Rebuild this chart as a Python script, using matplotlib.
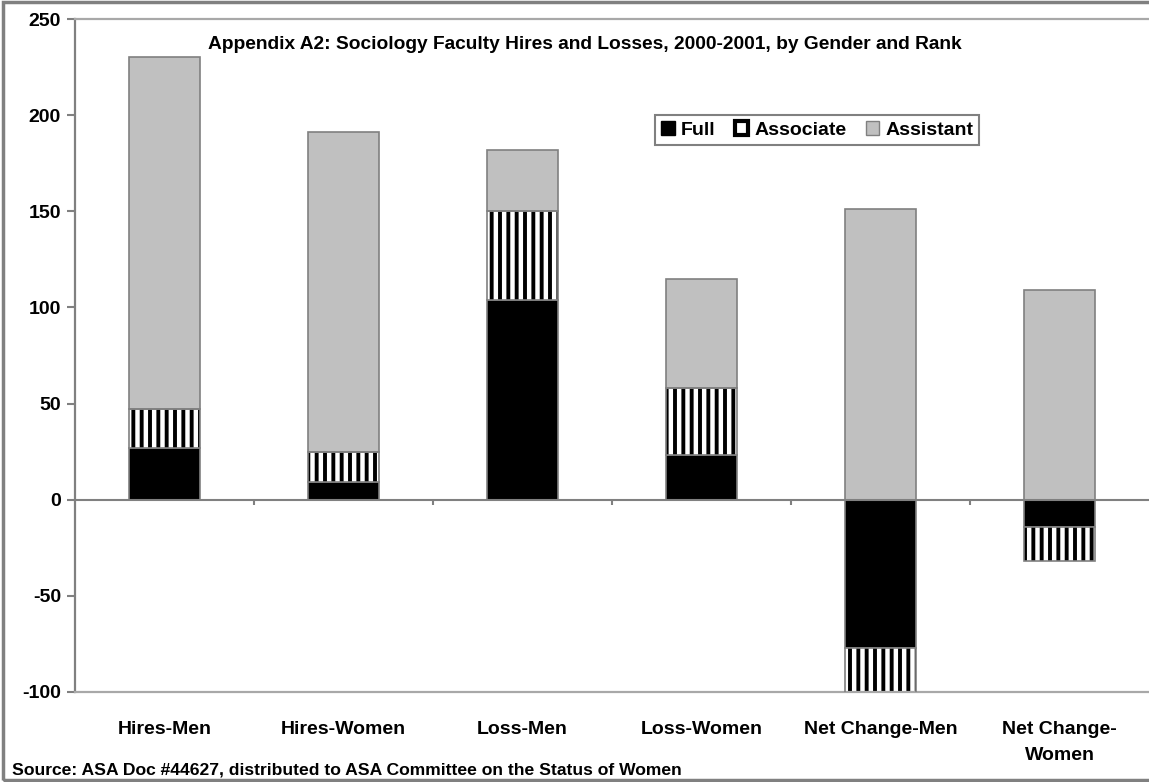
import matplotlib.pyplot as plt
from matplotlib.patches import Patch, Rectangle

plt.rcParams['font.family'] = ['Liberation Sans', 'DejaVu Sans']
plt.rcParams['font.weight'] = 'bold'
plt.rcParams['hatch.linewidth'] = 3.2

categories = ['Hires-Men', 'Hires-Women', 'Loss-Men', 'Loss-Women',
              'Net Change-Men', 'Net Change-\nWomen']
full = [27, 9, 104, 23, -77, -14]
associate = [20, 16, 46, 35, -26, -18]
assistant = [183, 166, 32, 57, 151, 109]
yticks = [-100, -50, 0, 50, 100, 150, 200, 250]

GREY = '#c0c0c0'
EDGE = '#808080'

fig = plt.figure(figsize=(11.49, 7.82), dpi=100)
ax = fig.add_axes([75 / 1149, 1 - 692 / 782, 1 - 75 / 1149, 673 / 782])

x = list(range(len(categories)))
w = 0.40

# stacking: positives go up from 0, negatives go down from 0
pos_base = [0] * len(x)
neg_base = [0] * len(x)

def stack(vals):
    bottoms = []
    for i, v in enumerate(vals):
        if v >= 0:
            bottoms.append(pos_base[i])
            pos_base[i] += v
        else:
            bottoms.append(neg_base[i])
            neg_base[i] += v
    return bottoms

b_full = stack(full)
b_assoc = stack(associate)
b_asst = stack(assistant)

ax.bar(x, full, w, bottom=b_full, color='black', edgecolor=EDGE, linewidth=1.2, zorder=2)
ax.bar(x, associate, w, bottom=b_assoc, color='black', edgecolor='white',
       hatch='||', linewidth=0, zorder=2)
ax.bar(x, associate, w, bottom=b_assoc, fill=False, edgecolor=EDGE, linewidth=1.2, zorder=3)
ax.bar(x, assistant, w, bottom=b_asst, color=GREY, edgecolor=EDGE, linewidth=1.2, zorder=2)

ax.set_xlim(-0.5, len(x) - 0.5)
ax.set_ylim(-100, 250)

# category axis at zero
ax.axhline(0, color=EDGE, lw=1.5, zorder=4)
ax.vlines([i + 0.5 for i in x[:-1]], -2.8, 0, color=EDGE, lw=1.5, zorder=4)

ax.set_yticks(yticks)
ax.set_yticklabels([str(t) for t in yticks], fontsize=14, fontweight='bold')
ax.tick_params(axis='y', length=6, width=1.5, color=EDGE, pad=4)
ax.set_xticks(x)
ax.set_xticklabels(categories, fontsize=14, fontweight='bold', linespacing=1.7)
ax.tick_params(axis='x', length=0, pad=21)

for s in ['top', 'bottom']:
    ax.spines[s].set_color('#a8a8a8')
    ax.spines[s].set_linewidth(1.6)
ax.spines['left'].set_color(EDGE)
ax.spines['left'].set_linewidth(1.6)
ax.spines['right'].set_visible(False)

ax.text(0.475, 0.962, 'Appendix A2: Sociology Faculty Hires and Losses, 2000-2001, by Gender and Rank',
        transform=ax.transAxes, ha='center', va='center', fontsize=13.8, fontweight='bold')

handles = [Patch(facecolor='black', edgecolor='black', lw=1),
           Patch(facecolor='white', edgecolor='black', lw=3),
           Patch(facecolor=GREY, edgecolor=EDGE, lw=1)]
leg = ax.legend(handles, ['Full', 'Associate', 'Assistant'], loc='center',
                bbox_to_anchor=(0.691, 0.835), ncol=3, fancybox=False, framealpha=1,
                edgecolor=EDGE, handlelength=0.7, handleheight=0.7, handletextpad=0.3,
                columnspacing=1.0, borderpad=0.3, prop={'size': 14, 'weight': 'bold'})
leg.get_frame().set_linewidth(1.5)

fig.text(12 / 1149, 1 - 770 / 782,
         'Source: ASA Doc #44627, distributed to ASA Committee on the Status of Women',
         ha='left', va='center', fontsize=12.6, fontweight='bold')

fig.patches.append(Rectangle((3 / 1149, 2 / 782), 1.0, 1 - 4 / 782, transform=fig.transFigure,
                             fill=False, edgecolor=EDGE, lw=2.5))

fig.savefig('out.png', dpi=100)
